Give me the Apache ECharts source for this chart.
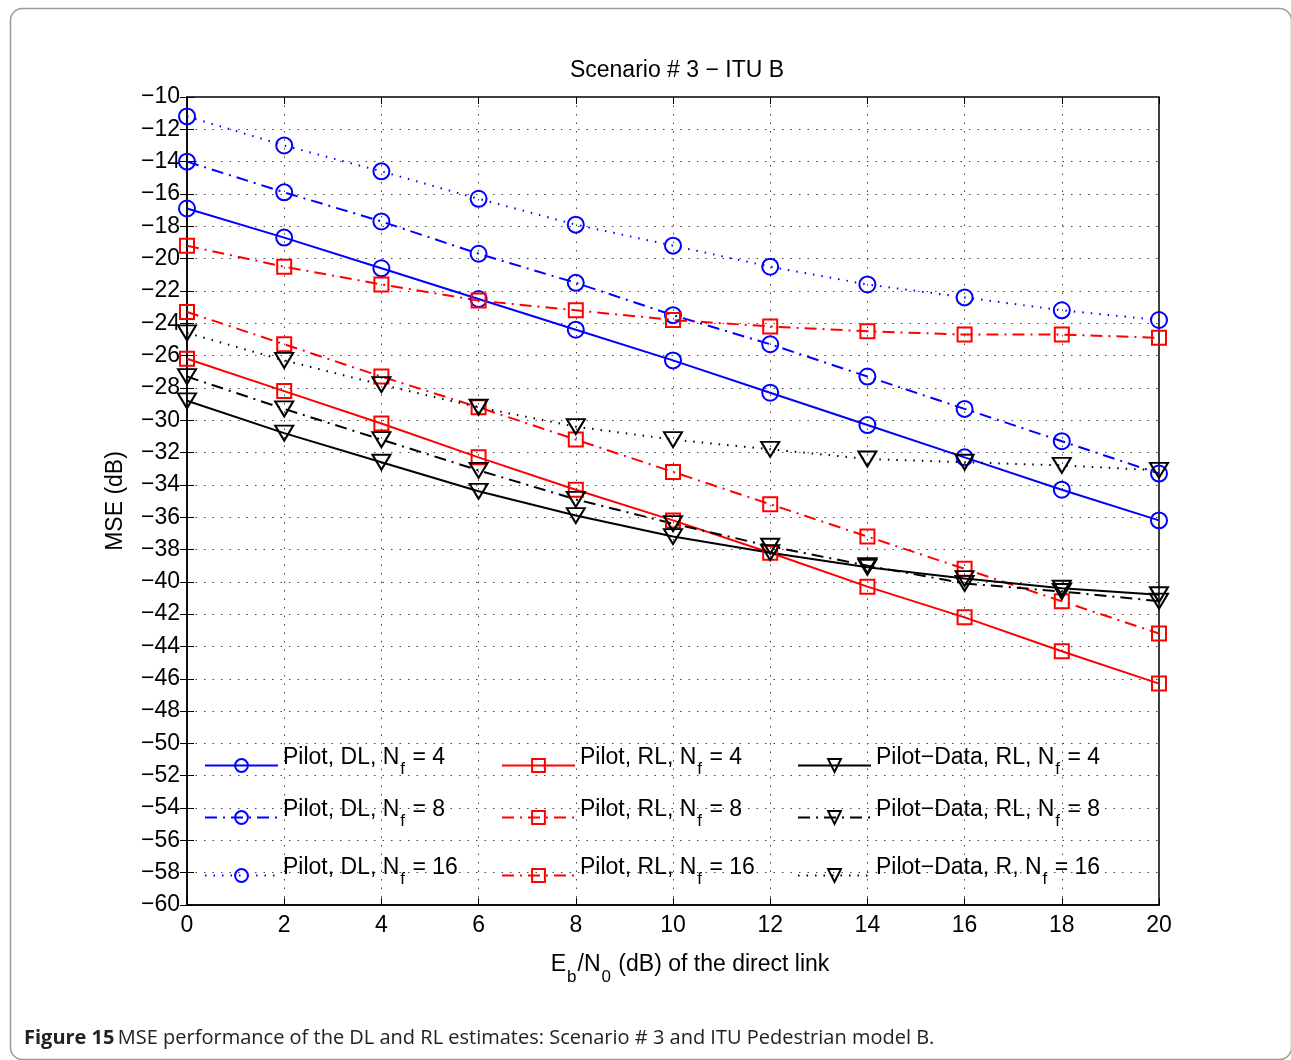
<!DOCTYPE html>
<html><head><meta charset="utf-8">
<script src="https://cdn.jsdelivr.net/npm/echarts@6/dist/echarts.min.js"></script>
<style>html,body{margin:0;padding:0;background:#fff}#c{width:1291px;height:1060px}</style>
</head><body><div id="c"></div>
<script>
const ebn0 = [0, 2, 4, 6, 8, 10, 12, 14, 16, 18, 20];
const dl4  = [-16.9, -18.7, -20.6, -22.5, -24.4, -26.3, -28.3, -30.3, -32.3, -34.3, -36.2];
const dl8  = [-14.0, -15.9, -17.7, -19.7, -21.5, -23.5, -25.3, -27.3, -29.3, -31.3, -33.3];
const dl16 = [-11.2, -13.0, -14.6, -16.3, -17.9, -19.2, -20.5, -21.6, -22.4, -23.2, -23.8];
const rl4  = [-26.2, -28.2, -30.2, -32.3, -34.3, -36.2, -38.2, -40.3, -42.2, -44.3, -46.3];
const rl8  = [-23.3, -25.3, -27.3, -29.2, -31.2, -33.2, -35.2, -37.2, -39.2, -41.2, -43.2];
const rl16 = [-19.2, -20.5, -21.6, -22.6, -23.2, -23.8, -24.2, -24.5, -24.7, -24.7, -24.9];
const pd4  = [-28.8, -30.8, -32.6, -34.4, -35.9, -37.2, -38.2, -39.1, -39.8, -40.4, -40.8];
const pd8  = [-27.3, -29.3, -31.2, -33.1, -34.9, -36.4, -37.8, -39.0, -40.1, -40.6, -41.2];
const pd16 = [-24.6, -26.3, -27.8, -29.2, -30.4, -31.2, -31.8, -32.4, -32.6, -32.8, -33.1];

const names = ['Pilot, DL, Nf = 4','Pilot, DL, Nf = 8','Pilot, DL, Nf = 16',
               'Pilot, RL, Nf = 4','Pilot, RL, Nf = 8','Pilot, RL, Nf = 16',
               'Pilot\u2212Data, RL, Nf = 4','Pilot\u2212Data, RL, Nf = 8','Pilot\u2212Data, R, Nf = 16'];

const FONT = '"Liberation Sans", Arial, Helvetica, sans-serif';
const FS = 23;
const DASHDOT = [12, 6, 2, 6];
const DOT = [1.5, 7];

function pair(d){ return d.map((v,i)=>[ebn0[i], v]); }
function mk(name, data, color, type, symbol){
  const s = {
    name, type:'line', data: pair(data), showSymbol:true, animation:false,
    lineStyle:{color, width:2, type},
    itemStyle:{color:'rgba(0,0,0,0)', borderColor:color, borderWidth:2},
    emphasis:{disabled:true}
  };
  if(symbol==='o'){ s.symbol='circle'; s.symbolSize=16; }
  else if(symbol==='s'){ s.symbol='rect'; s.symbolSize=14; }
  else { s.symbol='triangle'; s.symbolSize=[18,15]; s.symbolRotate=180; }
  return s;
}
const series = [
  mk(names[0], dl4, '#0000ff', 'solid', 'o'),
  mk(names[1], dl8, '#0000ff', DASHDOT, 'o'),
  mk(names[2], dl16, '#0000ff', DOT, 'o'),
  mk(names[3], rl4, '#ff0000', 'solid', 's'),
  mk(names[4], rl8, '#ff0000', DASHDOT, 's'),
  mk(names[5], rl16, '#ff0000', DASHDOT, 's'),
  mk(names[6], pd4, '#000000', 'solid', 'v'),
  mk(names[7], pd8, '#000000', DASHDOT, 'v'),
  mk(names[8], pd16, '#000000', DOT, 'v')
];

function fmtLegend(n){
  const i = n.indexOf('Nf');
  return '{n|' + n.slice(0,i) + 'N}{s|f}{n|' + n.slice(i+2) + '}';
}
const legRich = {
  n:{fontSize:FS, fontFamily:FONT, color:'#000', lineHeight:26},
  s:{fontSize:17, fontFamily:FONT, color:'#000', lineHeight:26, padding:[24,1,0,1]}
};
const legPos = [
  [204, 737],[204, 789],[204, 847],
  [501, 737],[501, 789],[501, 847],
  [797, 737],[797, 789],[797, 847]
];
const legends = names.map((n,i)=>({
  show:true, left:legPos[i][0], top:legPos[i][1], orient:'vertical',
  data:[n], itemWidth:73, itemHeight:16, itemGap:0, padding:0,
  formatter: fmtLegend, selectedMode:false,
  textStyle:{rich:legRich, fontSize:FS, fontFamily:FONT, padding:[0,0,16,0]}
}));

const axisTick = {show:true, inside:true, length:7, lineStyle:{color:'#000', width:1}};
const chart = echarts.init(document.getElementById('c'), null, {renderer:'canvas'});
chart.setOption({
  backgroundColor:'#fff',
  animation:false,
  title:{text:'Scenario # 3 \u2212 ITU B', left:672, top:54, textAlign:'center',
         textStyle:{fontSize:FS, fontWeight:'normal', fontFamily:FONT, color:'#000'}},
  grid:{left:187, right:132, top:97, bottom:155, show:true, borderColor:'#000', borderWidth:1.5, backgroundColor:'#fff'},
  legend: legends,
  xAxis:[{
    type:'value', min:0, max:20, interval:2, position:'bottom',
    axisLine:{show:true, lineStyle:{color:'#000', width:1.5}},
    axisTick,
    axisLabel:{fontSize:FS, fontFamily:FONT, color:'#000', margin:9},
    splitLine:{show:true, lineStyle:{color:'#444', width:1, type:DOT}},
    name:'{n|E}{s|b}{n|/N}{s|0}{n| (dB) of the direct link}', nameLocation:'middle', nameGap:47,
    nameTextStyle:{padding:[0,0,0,34], rich:{
      n:{fontSize:FS, fontFamily:FONT, color:'#000', lineHeight:26},
      s:{fontSize:17, fontFamily:FONT, color:'#000', lineHeight:26, padding:[24,1,0,1]}
    }}
  },{
    type:'value', min:0, max:20, interval:2, position:'top',
    axisLine:{show:false}, axisTick, axisLabel:{show:false}, splitLine:{show:false}
  }],
  yAxis:[{
    type:'value', min:-60, max:-10, interval:2, position:'left',
    axisLine:{show:true, lineStyle:{color:'#000', width:1.5}},
    axisTick,
    axisLabel:{fontSize:FS, fontFamily:FONT, color:'#000', margin:7,
               formatter:v=>String(v).replace('-', '\u2212')},
    splitLine:{show:true, lineStyle:{color:'#444', width:1, type:DOT}},
    name:'MSE (dB)', nameLocation:'middle', nameGap:60, nameRotate:90,
    nameTextStyle:{fontSize:FS, fontFamily:FONT, color:'#000'}
  },{
    type:'value', min:-60, max:-10, interval:2, position:'right',
    axisLine:{show:false}, axisTick, axisLabel:{show:false}, splitLine:{show:false}
  }],
  series,
  graphic:[
    {type:'rect', left:8, top:6, shape:{width:1281, height:1051, r:12}, silent:true, z:-1,
     style:{fill:'none', stroke:'#9a9a9a', lineWidth:1.5}},
    {type:'text', left:24, top:1028, silent:true,
     style:{text:'{b|Figure 15} {r|MSE performance of the DL and RL estimates: Scenario # 3 and ITU Pedestrian model B.}',
       rich:{
         b:{fontSize:20, fontWeight:'bold', fontFamily:'"Open Sans", sans-serif', fill:'#222'},
         r:{fontSize:20, fontFamily:'"Open Sans", sans-serif', fill:'#222'}
       }}}
  ]
});
</script></body></html>
